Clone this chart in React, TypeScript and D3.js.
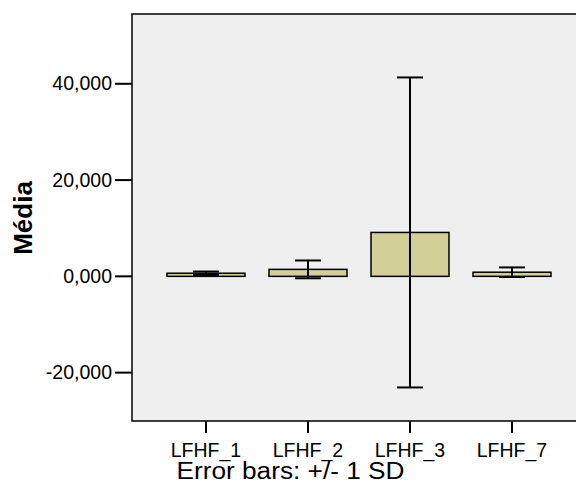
import React, { useRef, useEffect } from 'react';
import * as d3 from 'd3';

const categories = ['LFHF_1', 'LFHF_2', 'LFHF_3', 'LFHF_7'];
const means = [0.65, 1.45, 9.12, 0.86];
const sds = [0.35, 1.85, 32.2, 1.0];
const yTicks = [-20, 0, 20, 40];

const W = 576;
const H = 485;
const FONT = 'Arial, Liberation Sans, sans-serif';

const App = () => {
  const svgRef = useRef<SVGSVGElement>(null);

  useEffect(() => {
    const left = 132, right = 586, top = 14, bottom = 421;
    const x = d3.scalePoint<string>().domain(categories).range([206, 512]);
    const y = d3.scaleLinear().domain([-30.05, 54.5]).range([bottom, top]);
    // pt-BR style: comma decimal, plain hyphen for negatives
    const fmt = (v: number) => d3.format('.3f')(v).replace('.', ',').replace('\u2212', '-');
    const barW = 78;
    const capW = 26;

    const svg = d3.select(svgRef.current)
      .attr('width', W)
      .attr('height', H)
      .html('');

    // Plot area
    svg.append('rect')
      .attr('x', left).attr('y', top)
      .attr('width', right - left).attr('height', bottom - top)
      .attr('fill', '#efefef')
      .attr('stroke', '#000')
      .attr('stroke-width', 1.5);

    // Bars
    svg.selectAll('.bar')
      .data(categories)
      .enter()
      .append('rect')
        .attr('x', d => x(d)! - barW / 2)
        .attr('y', (d, i) => y(means[i]))
        .attr('width', barW)
        .attr('height', (d, i) => y(0) - y(means[i]))
        .attr('fill', '#d3cf98')
        .attr('stroke', '#000')
        .attr('stroke-width', 1.5);

    // Error bars
    const eb = svg.selectAll('.eb')
      .data(categories)
      .enter()
      .append('g')
        .attr('stroke', '#000')
        .attr('stroke-width', 2);
    eb.append('line')
      .attr('x1', d => x(d)!).attr('x2', d => x(d)!)
      .attr('y1', (d, i) => y(means[i] + sds[i]))
      .attr('y2', (d, i) => y(means[i] - sds[i]));
    eb.append('line')
      .attr('x1', d => x(d)! - capW / 2).attr('x2', d => x(d)! + capW / 2)
      .attr('y1', (d, i) => y(means[i] + sds[i]))
      .attr('y2', (d, i) => y(means[i] + sds[i]));
    eb.append('line')
      .attr('x1', d => x(d)! - capW / 2).attr('x2', d => x(d)! + capW / 2)
      .attr('y1', (d, i) => y(means[i] - sds[i]))
      .attr('y2', (d, i) => y(means[i] - sds[i]));

    // Y axis ticks
    const yt = svg.selectAll('.yt').data(yTicks).enter().append('g');
    yt.append('line')
      .attr('x1', left - 17).attr('x2', left)
      .attr('y1', d => y(d)).attr('y2', d => y(d))
      .attr('stroke', '#000').attr('stroke-width', 2);
    yt.append('text')
      .attr('x', left - 20)
      .attr('y', d => y(d) + 6.7)
      .attr('text-anchor', 'end')
      .attr('font-family', FONT)
      .attr('font-size', 19.5)
      .text(d => fmt(d));

    // X axis ticks
    const xt = svg.selectAll('.xt').data(categories).enter().append('g');
    xt.append('line')
      .attr('x1', d => x(d)!).attr('x2', d => x(d)!)
      .attr('y1', bottom).attr('y2', bottom + 12)
      .attr('stroke', '#000').attr('stroke-width', 2);
    xt.append('text')
      .attr('x', d => x(d)!)
      .attr('y', 456.5)
      .attr('text-anchor', 'middle')
      .attr('font-family', FONT)
      .attr('font-size', 19.5)
      .text(d => d);

    // Axis title
    svg.append('text')
      .attr('transform', `translate(31.5,218) rotate(-90)`)
      .attr('text-anchor', 'middle')
      .attr('font-family', FONT)
      .attr('font-size', 26)
      .attr('font-weight', 'bold')
      .text('Média');

    // Footnote
    svg.append('text')
      .attr('x', 176.5)
      .attr('y', 478.5)
      .attr('font-family', FONT)
      .attr('font-size', 23)
      .attr('textLength', 228)
      .attr('lengthAdjust', 'spacingAndGlyphs')
      .text('Error bars: +/- 1 SD');
  }, []);

  return <svg ref={svgRef} style={{ position: 'absolute', left: 0, top: 0, display: 'block' }} />;
};

export default App;
